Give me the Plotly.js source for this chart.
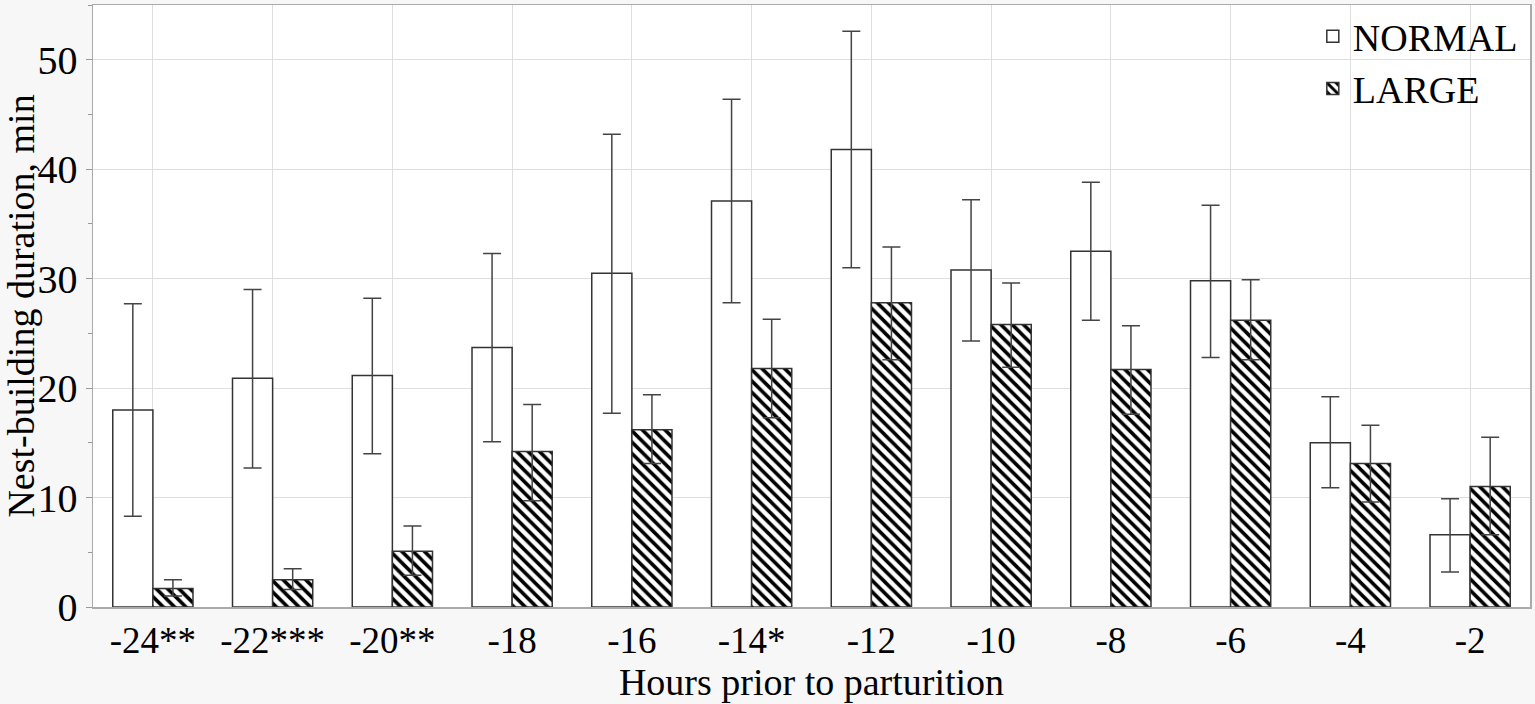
<!DOCTYPE html>
<html>
<head>
<meta charset="utf-8">
<script src="https://cdn.plot.ly/plotly-3.0.1.min.js"></script>
<style>
  html, body { margin: 0; padding: 0; background: #f7f7f7; }
  #chart { width: 1535px; height: 704px; }
</style>
</head>
<body>
<div id="chart"></div>
<script>
// hours prior to parturition (tick labels carry the significance stars)
const hours = ['-24**', '-22***', '-20**', '-18', '-16', '-14*', '-12', '-10', '-8', '-6', '-4', '-2']

// NORMAL litters: mean and error bar ends
const normalMean = [18.0, 20.9, 21.15, 23.7, 30.5, 37.1, 41.8, 30.8, 32.5, 29.8, 15.0, 6.6]
const normalUpper = [27.7, 29.0, 28.2, 32.3, 43.2, 46.4, 52.6, 37.2, 38.8, 36.7, 19.2, 9.9]
const normalLower = [8.3, 12.7, 14.0, 15.1, 17.7, 27.8, 31.0, 24.3, 26.2, 22.8, 10.9, 3.2]

// LARGE litters
const largeMean = [1.7, 2.5, 5.1, 14.2, 16.2, 21.8, 27.8, 25.8, 21.7, 26.2, 13.1, 11.0]
const largeUpper = [2.5, 3.5, 7.4, 18.5, 19.4, 26.3, 32.9, 29.6, 25.7, 29.9, 16.6, 15.5]
const largeLower = [1.0, 1.6, 2.9, 9.7, 13.1, 17.3, 22.6, 21.9, 17.6, 22.6, 9.6, 6.6]

const serif = 'Liberation Serif, Times New Roman, serif'

function errs(mean, upper, lower) {
  return {
    type: 'data', symmetric: false,
    array: upper.map((u, i) => u - mean[i]),
    arrayminus: lower.map((l, i) => mean[i] - l),
    color: '#444', thickness: 1.5, width: 9
  }
}

const data = [
  {
    name: 'NORMAL',
    type: 'bar',
    x: hours,
    y: normalMean,
    error_y: errs(normalMean, normalUpper, normalLower),
    marker: { color: '#ffffff', line: { color: '#333', width: 1.5 } }
  },
  {
    name: 'LARGE',
    type: 'bar',
    x: hours,
    y: largeMean,
    error_y: errs(largeMean, largeUpper, largeLower),
    marker: {
      color: '#ffffff',
      line: { color: '#333', width: 1.5 },
      pattern: { shape: '\\', fgcolor: '#000', bgcolor: '#fff', size: 8, solidity: 0.45 }
    }
  }
]

const layout = {
  width: 1535,
  height: 704,
  paper_bgcolor: '#f7f7f7',
  plot_bgcolor: '#ffffff',
  margin: { l: 93, r: 5, t: 5, b: 97 },
  barmode: 'group',
  bargap: 0.33,
  bargroupgap: 0,
  font: { family: serif, color: '#000' },
  showlegend: true,
  legend: {
    x: 0.995, xanchor: 'right', y: 1, yanchor: 'top',
    bgcolor: 'rgba(0,0,0,0)',
    font: { family: serif, size: 38, color: '#000' },
    itemwidth: 30, tracegroupgap: 0
  },
  xaxis: {
    type: 'category',
    range: [-0.5, 11.5],
    showgrid: true, gridcolor: '#dedede', gridwidth: 1,
    showline: true, linecolor: '#aaa', linewidth: 1.5, mirror: true,
    ticks: '',
    tickfont: { family: serif, size: 37, color: '#000' },
    title: { text: 'Hours prior to parturition', font: { family: serif, size: 38, color: '#000' }, standoff: 0 },
    fixedrange: true
  },
  yaxis: {
    range: [0, 55],
    dtick: 10,
    showgrid: true, gridcolor: '#dedede', gridwidth: 1,
    zeroline: false,
    showline: true, linecolor: '#aaa', linewidth: 1.5, mirror: true,
    ticks: 'outside', ticklen: 6, tickcolor: '#999',
    minor: { dtick: 5, ticks: 'outside', ticklen: 4, tickcolor: '#999', showgrid: false },
    tickfont: { family: serif, size: 40, color: '#000' },
    title: { text: 'Nest-building duration, min', font: { family: serif, size: 38, color: '#000' }, standoff: 4 },
    fixedrange: true
  }
}

const config = { responsive: false, displayModeBar: false, staticPlot: true }

Plotly.newPlot(document.getElementById('chart'), data, layout, config)
</script>
</body>
</html>
